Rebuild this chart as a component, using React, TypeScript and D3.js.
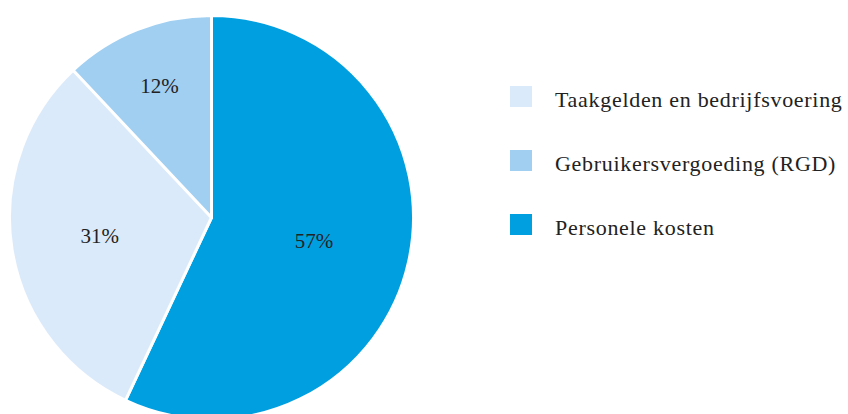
import React from "react";
import * as d3 from "d3";

const categories = ["Personele kosten", "Taakgelden en bedrijfsvoering", "Gebruikersvergoeding (RGD)"];
const values = [57, 31, 12];
const labels = ["57%", "31%", "12%"];
const colors = ["#009fe0", "#dbeafa", "#a0cff2"];
const labelRadius = [0.52, 0.56, 0.7];
const legendOrder = [1, 2, 0];

const W = 848;
const H = 414;
const cx = 211.5;
const cy = 217.5;
const R = 202;

export default function App() {
  const pie = d3.pie<number>().sort(null).value((d) => d)(values);
  const arc = d3.arc<d3.PieArcDatum<number>>().innerRadius(0).outerRadius(R);
  const font = "'Liberation Serif', serif";
  return (
    <svg width={W} height={H} style={{ position: "absolute", left: 0, top: 0, background: "#fff" }}>
      <g transform={`translate(${cx},${cy})`}>
        {pie.map((p, i) => (
          <path key={i} d={arc(p) || ""} fill={colors[i]} stroke="#fff" strokeWidth={3} strokeLinejoin="round" />
        ))}
        {pie.map((p, i) => {
          const r = R * labelRadius[i];
          const [x, y] = d3.arc<d3.PieArcDatum<number>>().innerRadius(r).outerRadius(r).centroid(p);
          return (
            <text key={i} x={x} y={y} dy="0.35em" textAnchor="middle" fontFamily={font} fontSize={21} fill="#222">
              {labels[i]}
            </text>
          );
        })}
      </g>
      {legendOrder.map((idx, k) => (
        <g key={idx} transform={`translate(510,${86 + k * 64})`}>
          <rect width={22} height={21} fill={colors[idx]} />
          <text x={45} y={21} fontFamily={font} fontSize={22} letterSpacing={0.7} fill="#222">
            {categories[idx]}
          </text>
        </g>
      ))}
    </svg>
  );
}
